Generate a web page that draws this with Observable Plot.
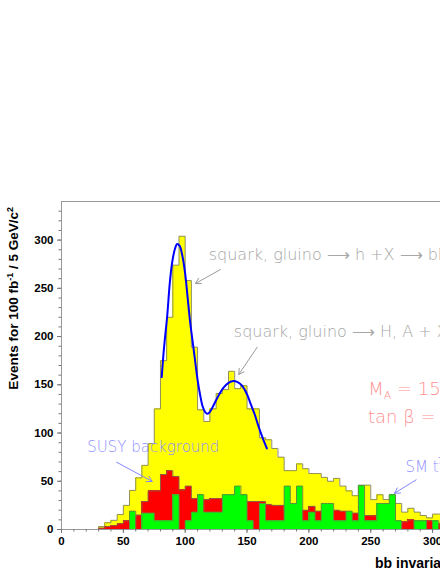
<!DOCTYPE html>
<html><head><meta charset="utf-8">
<script src="https://cdn.jsdelivr.net/npm/d3@7"></script>
<script src="https://cdn.jsdelivr.net/npm/@observablehq/plot@0.6"></script>
<style>
html,body{margin:0;padding:0;background:#fff;overflow:hidden;width:440px;height:570px;}
#chart{width:440px;height:570px;overflow:hidden;position:relative;}
#chart svg{position:absolute;left:0;top:0;max-width:none !important;width:600px !important;height:570px !important;}
</style></head><body><div id="chart"></div>
<script>
// bin lower edges (GeV/c^2), 5 GeV bins
const binStart = [30,35,40,45,50,55,60,65,70,75,80,85,90,95,100,105,110,115,120,125,130,135,140,145,150,155,160,165,170,175,180,185,190,195,200,205,210,215,220,225,230,235,240,245,250,255,260,265,270,275,280,285,290,295,300,305];
// total (signal + backgrounds), yellow
const total = [3,7,9.5,15.5,25,40.5,53.5,66.5,89,125,175,220,274,304,258,189,124,112,125,141,145,164,146,149,125,125,95,93,84,75,61,61,68,63,58,58,54,50,53,45,40,35,46,46,31,36,31,36,27,18,22,18,14.5,12,16,16];
// SUSY background, red
const susyBg = [1.5,3,4,6,9,12,15,29,40,40,57,61,55,41,45,32,30,31,32,32,30,30,30,30,29,29,29,26,25,25,20,20,20,20,24,19,20,20,20,19,15,17,15,14.5,14,10,10,10,5,8,10,5,5,9,5,6];
// SM ttbar background, green
const smTT = [0,0,0,0,0,19,0,17,17,9,9,9,36,0,9,18,36,18,18,18,36,36,45,36,9,0,27,9,9,9,45,27,45,9,18,9,27,27,9,9,19,9,45.5,9,9,27,27,36,9,0,0,9,9,0,9,0];
// fitted curve
const fitM = [81,83,85.5,87.5,89.5,91.5,93.5,95.5,97.5,100,102,104,106,108,110,112,114,116,118,120,123,127,131,135,139,142,146,150,153,156,159,162,166];
const fitV = [158,190,222,255,277,290,296,294,285,265,240,215,195,175,155,140,128,122,120,122,129,139,147,152,154,153,149,140,130,120,108,97,84];
const yTickLabels = [0,50,100,150,200,250,300];
const xTickLabels = [0,50,100,150,200,250,300];

const BW = 5;
const rows = binStart.map((b, i) => ({x1: b, x2: b + BW, total: total[i], red: susyBg[i], green: smTT[i]}));
function stepPts(vals) {
  const n = binStart.length - 1;
  const pts = [{x: binStart[0], y: 0}];
  binStart.forEach((b, i) => pts.push({x: b, y: vals[i]}));
  pts.push({x: binStart[n] + BW, y: vals[n]});
  pts.push({x: binStart[n] + BW, y: 0});
  return pts;
}
const fit = fitM.map((m, i) => ({x: m, y: fitV[i]}));

const W = 600;
const pxPerUnit = 1.237;
const xMax = 400, yMax = 340;
const annFont = "'DejaVu Sans ExtraLight', 'DejaVu Sans', sans-serif";

const plot = Plot.plot({
  width: W, height: 570,
  marginLeft: 61, marginTop: 201, marginBottom: 41, marginRight: W - 61 - xMax * pxPerUnit,
  x: {domain: [0, xMax], axis: null},
  y: {domain: [0, yMax], axis: null},
  style: {fontFamily: "'Liberation Sans', Arial, sans-serif", background: "white", maxWidth: "none"},
  marks: [
    Plot.rectY(rows, {x1: "x1", x2: "x2", y: "total", fill: "#ffff00", inset: 0, shapeRendering: "crispEdges"}),
    Plot.line(stepPts(total), {x: "x", y: "y", curve: "step-after", stroke: "#8f8f60", strokeWidth: 1}),
    Plot.rectY(rows, {x1: "x1", x2: "x2", y: "red", fill: "#ff0000", inset: 0, shapeRendering: "crispEdges"}),
    Plot.line(stepPts(susyBg), {x: "x", y: "y", curve: "step-after", stroke: "#8f6040", strokeWidth: 1}),
    Plot.rectY(rows, {x1: "x1", x2: "x2", y: "green", fill: "#00ff00", inset: 0, shapeRendering: "crispEdges"}),
    Plot.line(stepPts(smTT), {x: "x", y: "y", curve: "step-after", stroke: "#609040", strokeWidth: 1}),
    Plot.line(fit, {x: "x", y: "y", curve: "catmull-rom", stroke: "#0000ff", strokeWidth: 2}),
    // frame
    Plot.ruleX([0], {stroke: "#999", strokeWidth: 1}),
    Plot.ruleY([0, yMax], {stroke: "#999", strokeWidth: 1}),
    // axes
    Plot.axisY({ticks: d3.range(0, yMax, 10), tickSize: 2.5, tickFormat: () => "", stroke: "#777"}),
    Plot.axisY({ticks: yTickLabels, tickSize: 4, tickPadding: 4, stroke: "#777", fill: "black", fontWeight: "bold", fontSize: 11.5, label: null}),
    Plot.axisX({ticks: d3.range(0, xMax + 1, 10), tickSize: 2.5, tickFormat: () => "", stroke: "#777"}),
    Plot.axisX({ticks: xTickLabels, tickSize: 4, tickPadding: 3.5, stroke: "#777", fill: "black", fontWeight: "bold", fontSize: 11.5, label: null}),
    // annotations
    Plot.text([{x: 119, y: 279, t: "squark, gluino \u27F6 h +X \u27F6 bb +X"}], {x: "x", y: "y", text: "t", textAnchor: "start", lineAnchor: "bottom", fill: "#a6a6a6", fontSize: 16, fontFamily: annFont, fontWeight: 200}),
    Plot.arrow([{x1: 128.5, y1: 269.5, x2: 108.3, y2: 255}], {x1: "x1", y1: "y1", x2: "x2", y2: "y2", stroke: "#9a9a9a", strokeWidth: 1, headLength: 9}),
    Plot.text([{x: 139.3, y: 200, t: "squark, gluino \u27F6 H, A + X \u27F6 bb +X"}], {x: "x", y: "y", text: "t", textAnchor: "start", lineAnchor: "bottom", fill: "#a6a6a6", fontSize: 16, fontFamily: annFont, fontWeight: 200}),
    Plot.arrow([{x1: 158.2, y1: 189, x2: 143.3, y2: 160.7}], {x1: "x1", y1: "y1", x2: "x2", y2: "y2", stroke: "#9a9a9a", strokeWidth: 1, headLength: 9}),
    Plot.text([{x: 20.8, y: 80.1, t: "SUSY background"}], {x: "x", y: "y", text: "t", textAnchor: "start", lineAnchor: "bottom", fill: "#8f8fff", fontSize: 15, fontFamily: annFont, fontWeight: 200}),
    Plot.arrow([{x1: 44.5, y1: 69.8, x2: 73.3, y2: 49.8}], {x1: "x1", y1: "y1", x2: "x2", y2: "y2", stroke: "#8585ff", strokeWidth: 1, headLength: 9}),
    Plot.text([{x: 278.1, y: 59.4, t: "SM tt\u0304"}], {x: "x", y: "y", text: "t", textAnchor: "start", lineAnchor: "bottom", fill: "#8f8fff", fontSize: 15, fontFamily: annFont, fontWeight: 200}),
    Plot.arrow([{x1: 286.7, y1: 51.5, x2: 269.2, y2: 37.6}], {x1: "x1", y1: "y1", x2: "x2", y2: "y2", stroke: "#8585ff", strokeWidth: 1, headLength: 9})
  ]
});

document.getElementById("chart").appendChild(plot);
const svg = d3.select(plot);
const sx = plot.scale("x"), sy = plot.scale("y");

// M_A and tan beta labels
const mt = svg.append("text").attr("x", sx.apply(248.4)).attr("y", sy.apply(139)).attr("text-anchor", "start")
  .attr("fill", "#ff9090").attr("font-family", annFont).attr("font-weight", 200).attr("font-size", 18);
mt.append("tspan").text("M");
mt.append("tspan").attr("font-size", 11).attr("dy", 4).text("A");
mt.append("tspan").attr("dy", -4).text(" = 150 GeV/c\u00B2");
svg.append("text").attr("x", sx.apply(248.2)).attr("y", sy.apply(109.6)).attr("text-anchor", "start")
  .attr("fill", "#ff9090").attr("font-family", annFont).attr("font-weight", 200).attr("font-size", 18)
  .text("tan \u03B2 = 10");

// y title
const yt = svg.append("text").attr("transform", "translate(18,207) rotate(-90)")
  .attr("text-anchor", "end").attr("font-family", "'Liberation Sans', Arial, sans-serif")
  .attr("font-weight", "bold").attr("font-size", 13.5).attr("fill", "black");
yt.append("tspan").text("Events for 100 fb");
yt.append("tspan").attr("font-size", 9).attr("dy", -5).text("-1");
yt.append("tspan").attr("dy", 5).text(" / 5 GeV/c");
yt.append("tspan").attr("font-size", 9).attr("dy", -5).text("2");

// x title
svg.append("text").attr("x", 375).attr("y", 568).attr("text-anchor", "start")
  .attr("font-family", "'Liberation Sans', Arial, sans-serif")
  .attr("font-weight", "bold").attr("font-size", 14).attr("fill", "black")
  .text("bb invariant mass (GeV/c\u00B2)");
</script>
</body></html>
